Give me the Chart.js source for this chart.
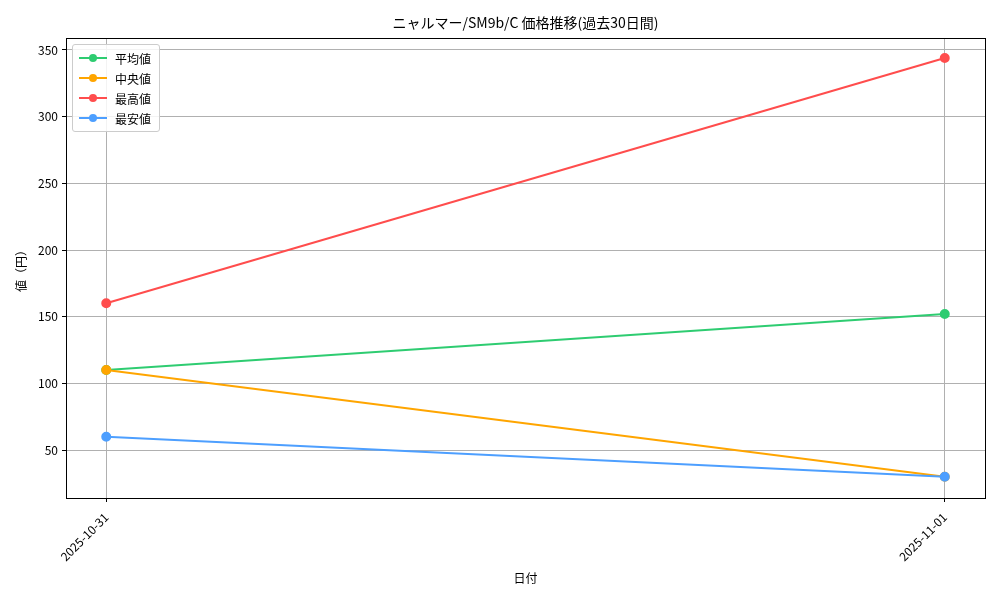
<!DOCTYPE html>
<html><head><meta charset="utf-8">
<script src="https://cdn.jsdelivr.net/npm/chart.js@4"></script>
<style>
body{margin:0;background:#fff}
#wrap{position:relative;width:1000px;height:600px}
#legend{position:absolute;left:72px;top:44px;background:rgba(255,255,255,.85);border:1px solid #ccc;border-radius:3px;padding:3px 8px 3px 6px;font:12px "Noto Sans CJK JP";color:#000}
#legend div{display:flex;align-items:center;height:20px}
#legend svg{margin-right:8px}
</style></head>
<body><div id="wrap"><canvas id="c" width="1000" height="600"></canvas><div id="legend"></div></div>
<script>
"use strict";
const dates = ["2025-10-31", "2025-11-01"];
const avgVals = [110, 152];
const medVals = [110, 30];
const maxVals = [160, 344];
const minVals = [60, 30];
const yTicks = [50, 100, 150, 200, 250, 300, 350];
const series = [
  { label: "平均値", data: avgVals, color: "#2ecc71" },
  { label: "中央値", data: medVals, color: "#ffa500" },
  { label: "最高値", data: maxVals, color: "#ff4d4d" },
  { label: "最安値", data: minVals, color: "#4d9fff" },
];
const FONT = "Noto Sans CJK JP";

document.getElementById("legend").innerHTML = series.map(s =>
  `<div><svg width="28" height="10"><line x1="0" y1="5" x2="28" y2="5" stroke="${s.color}" stroke-width="2"/><circle cx="14" cy="5" r="4" fill="${s.color}"/></svg>${s.label}</div>`).join("");

const titlePlugin = {
  id: "mytitle",
  afterDraw(chart) {
    const ctx = chart.ctx, a = chart.chartArea;
    ctx.save();
    ctx.fillStyle = "#000";
    ctx.font = `14px "${FONT}"`;
    ctx.textAlign = "center"; ctx.textBaseline = "middle";
    ctx.fillText("ニャルマー/SM9b/C 価格推移(過去30日間)", (a.left + a.right) / 2, 23);
    ctx.strokeStyle = "#000"; ctx.lineWidth = 1;
    ctx.strokeRect(a.left + 0.5, a.top + 0.5, a.right - a.left, a.bottom - a.top);
    ctx.restore();
  }
};

new Chart(document.getElementById("c"), {
  type: "line",
  data: {
    datasets: series.map((s, i) => ({
      label: s.label,
      order: series.length - i,
      data: s.data.map((v, j) => ({ x: j, y: v })),
      borderColor: s.color, backgroundColor: s.color,
      borderWidth: 2, pointRadius: 4, pointHoverRadius: 4, tension: 0
    }))
  },
  options: {
    responsive: false, animation: false,
    layout: { padding: { top: 38, right: 15, left: 0, bottom: 0 } },
    plugins: { legend: { display: false }, tooltip: { enabled: false } },
    scales: {
      x: {
        type: "linear", min: -0.048, max: 1.048,
        afterBuildTicks: sc => { sc.ticks = dates.map((d, i) => ({ value: i })); },
        afterFit: sc => { sc.height = 102; },
        ticks: { callback: v => dates[v], color: "#000", font: { family: FONT, size: 12 }, maxRotation: 45, minRotation: 45, padding: 8 },
        grid: { color: "#b0b0b0", tickColor: "#000", tickLength: 4 },
        border: { color: "#000" },
        title: { display: true, text: "日付", color: "#000", font: { family: FONT, size: 12 }, padding: { top: 0, bottom: 14 } }
      },
      y: {
        min: 14, max: 359,
        afterBuildTicks: sc => { sc.ticks = yTicks.map(v => ({ value: v })); },
        afterFit: sc => { sc.width = 66; },
        ticks: { color: "#000", font: { family: FONT, size: 12 }, padding: 4 },
        grid: { color: "#b0b0b0", tickColor: "#000", tickLength: 4 },
        border: { color: "#000" },
        title: { display: true, text: "値（円）", color: "#000", font: { family: FONT, size: 12 }, padding: { top: 14, bottom: 4 } }
      }
    }
  },
  plugins: [titlePlugin]
});
</script></body></html>
